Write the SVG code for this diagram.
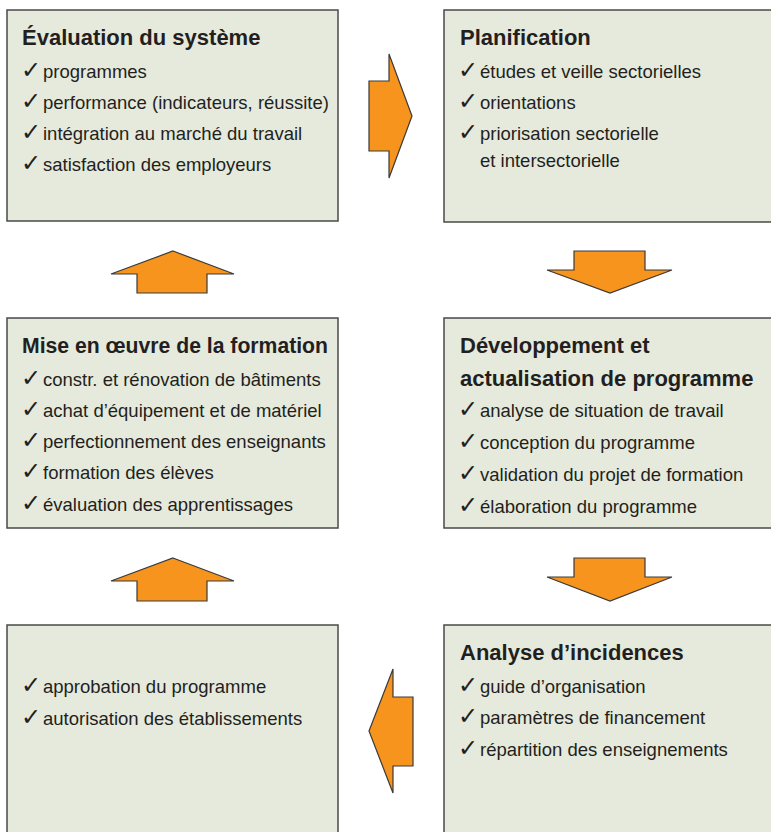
<svg xmlns="http://www.w3.org/2000/svg" width="771" height="832" viewBox="0 0 771 832">
<style>
.box{fill:#e6eadc;stroke:#4a4a4a;stroke-width:1.5}
.arr{fill:#f7941d;stroke:#3a3a3a;stroke-width:1.2;stroke-linejoin:miter}
.t{font-family:"Liberation Sans",Arial,sans-serif;font-weight:bold;font-size:22px;fill:#231f20}
.i{font-family:"Liberation Sans",Arial,sans-serif;font-size:18.5px;fill:#231f20}
.c{font-family:"DejaVu Sans",sans-serif;font-size:24px;fill:#231f20}
</style>
<rect width="771" height="832" fill="#ffffff"/>
<g id="evaluation">
<rect class="box" x="7" y="10" width="331" height="211"/>
<text class="t" x="22" y="45">Évaluation du système</text>
<text class="c" x="21" y="78">✓</text><text class="i" x="43" y="78">programmes</text>
<text class="c" x="21" y="109">✓</text><text class="i" x="43" y="109">performance (indicateurs, réussite)</text>
<text class="c" x="21" y="140">✓</text><text class="i" x="43" y="140">intégration au marché du travail</text>
<text class="c" x="21" y="171">✓</text><text class="i" x="43" y="171">satisfaction des employeurs</text>
</g>
<g id="planification">
<rect class="box" x="444" y="10" width="340" height="212"/>
<text class="t" x="460" y="45">Planification</text>
<text class="c" x="458" y="78">✓</text><text class="i" x="480" y="78">études et veille sectorielles</text>
<text class="c" x="458" y="109">✓</text><text class="i" x="480" y="109">orientations</text>
<text class="c" x="458" y="140">✓</text><text class="i" x="480" y="140">priorisation sectorielle</text>
<text class="i" x="480" y="167">et intersectorielle</text>
</g>
<g id="mise-en-oeuvre">
<rect class="box" x="7" y="318" width="331" height="210"/>
<text class="t" x="22" y="353" textLength="306" lengthAdjust="spacingAndGlyphs">Mise en œuvre de la formation</text>
<text class="c" x="21" y="386">✓</text><text class="i" x="43" y="386">constr. et rénovation de bâtiments</text>
<text class="c" x="21" y="417">✓</text><text class="i" x="43" y="417">achat d’équipement et de matériel</text>
<text class="c" x="21" y="448">✓</text><text class="i" x="43" y="448">perfectionnement des enseignants</text>
<text class="c" x="21" y="479">✓</text><text class="i" x="43" y="479">formation des élèves</text>
<text class="c" x="21" y="511">✓</text><text class="i" x="43" y="511">évaluation des apprentissages</text>
</g>
<g id="developpement">
<rect class="box" x="444" y="318" width="340" height="210"/>
<text class="t" x="460" y="353">Développement et</text>
<text class="t" x="460" y="386">actualisation de programme</text>
<text class="c" x="458" y="417">✓</text><text class="i" x="480" y="417">analyse de situation de travail</text>
<text class="c" x="458" y="449">✓</text><text class="i" x="480" y="449">conception du programme</text>
<text class="c" x="458" y="481">✓</text><text class="i" x="480" y="481">validation du projet de formation</text>
<text class="c" x="458" y="513">✓</text><text class="i" x="480" y="513">élaboration du programme</text>
</g>
<g id="approbation">
<rect class="box" x="7" y="625" width="331" height="220"/>
<text class="c" x="21" y="693">✓</text><text class="i" x="43" y="693">approbation du programme</text>
<text class="c" x="21" y="725">✓</text><text class="i" x="43" y="725">autorisation des établissements</text>
</g>
<g id="analyse">
<rect class="box" x="444" y="625" width="340" height="220"/>
<text class="t" x="460" y="660">Analyse d’incidences</text>
<text class="c" x="458" y="693">✓</text><text class="i" x="480" y="693">guide d’organisation</text>
<text class="c" x="458" y="724">✓</text><text class="i" x="480" y="724">paramètres de financement</text>
<text class="c" x="458" y="756">✓</text><text class="i" x="480" y="756">répartition des enseignements</text>
</g>
<g id="connectors">
<polygon class="arr" points="369,81 389,81 389,54 412,116 389,178 389,151 369,151"/>
<polygon class="arr" points="574,251 645,251 645,270 672,270 610,293 547,270 574,270"/>
<polygon class="arr" points="574,558 645,558 645,577 672,577 610,601 547,577 574,577"/>
<polygon class="arr" points="173,251 234,274 207,274 207,293 137,293 137,274 111,274"/>
<polygon class="arr" points="173,558 234,581 207,581 207,601 137,601 137,581 111,581"/>
<polygon class="arr" points="413,697 393,697 393,669 369,731 393,793 393,766 413,766"/>
</g>
</svg>
